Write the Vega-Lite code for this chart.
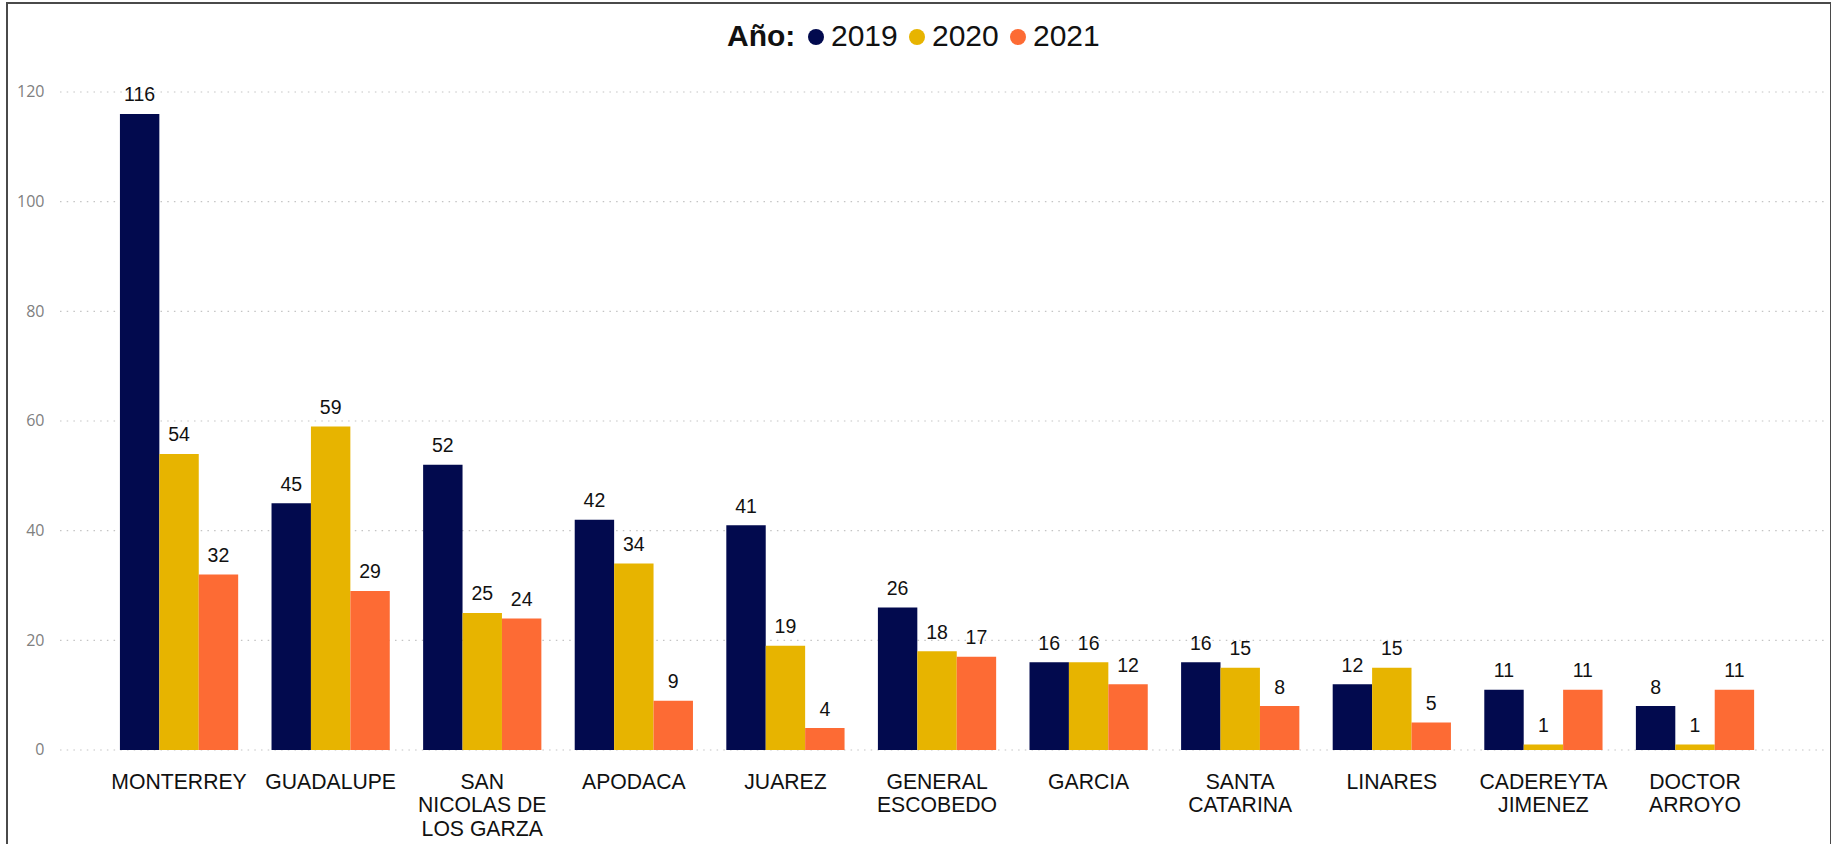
{
  "$schema": "https://vega.github.io/schema/vega-lite/v6.json",
  "width": 1824,
  "height": 843,
  "autosize": {"type": "none"},
  "padding": {"left": 7, "top": 3, "right": 0, "bottom": 0},
  "background": "white",
  "config": {
    "view": {"stroke": "#4a4a4a", "strokeWidth": 2},
    "font": "Liberation Sans"
  },
  "datasets": {
    "bars": [
      {"municipio": "MONTERREY", "anio": "2019", "casos": 116},
      {"municipio": "MONTERREY", "anio": "2020", "casos": 54},
      {"municipio": "MONTERREY", "anio": "2021", "casos": 32},
      {"municipio": "GUADALUPE", "anio": "2019", "casos": 45},
      {"municipio": "GUADALUPE", "anio": "2020", "casos": 59},
      {"municipio": "GUADALUPE", "anio": "2021", "casos": 29},
      {"municipio": "SAN NICOLAS DE LOS GARZA", "anio": "2019", "casos": 52},
      {"municipio": "SAN NICOLAS DE LOS GARZA", "anio": "2020", "casos": 25},
      {"municipio": "SAN NICOLAS DE LOS GARZA", "anio": "2021", "casos": 24},
      {"municipio": "APODACA", "anio": "2019", "casos": 42},
      {"municipio": "APODACA", "anio": "2020", "casos": 34},
      {"municipio": "APODACA", "anio": "2021", "casos": 9},
      {"municipio": "JUAREZ", "anio": "2019", "casos": 41},
      {"municipio": "JUAREZ", "anio": "2020", "casos": 19},
      {"municipio": "JUAREZ", "anio": "2021", "casos": 4},
      {"municipio": "GENERAL ESCOBEDO", "anio": "2019", "casos": 26},
      {"municipio": "GENERAL ESCOBEDO", "anio": "2020", "casos": 18},
      {"municipio": "GENERAL ESCOBEDO", "anio": "2021", "casos": 17},
      {"municipio": "GARCIA", "anio": "2019", "casos": 16},
      {"municipio": "GARCIA", "anio": "2020", "casos": 16},
      {"municipio": "GARCIA", "anio": "2021", "casos": 12},
      {"municipio": "SANTA CATARINA", "anio": "2019", "casos": 16},
      {"municipio": "SANTA CATARINA", "anio": "2020", "casos": 15},
      {"municipio": "SANTA CATARINA", "anio": "2021", "casos": 8},
      {"municipio": "LINARES", "anio": "2019", "casos": 12},
      {"municipio": "LINARES", "anio": "2020", "casos": 15},
      {"municipio": "LINARES", "anio": "2021", "casos": 5},
      {"municipio": "CADEREYTA JIMENEZ", "anio": "2019", "casos": 11},
      {"municipio": "CADEREYTA JIMENEZ", "anio": "2020", "casos": 1},
      {"municipio": "CADEREYTA JIMENEZ", "anio": "2021", "casos": 11},
      {"municipio": "DOCTOR ARROYO", "anio": "2019", "casos": 8},
      {"municipio": "DOCTOR ARROYO", "anio": "2020", "casos": 1},
      {"municipio": "DOCTOR ARROYO", "anio": "2021", "casos": 11}
    ],
    "grid": [{"v": 0}, {"v": 20}, {"v": 40}, {"v": 60}, {"v": 80}, {"v": 100}, {"v": 120}]
  },
  "layer": [
    {
      "data": {"name": "grid"},
      "mark": {"type": "rule", "color": "#c4c4c4", "strokeWidth": 1.2, "strokeDash": [1.5, 5.2]},
      "encoding": {
        "y": {
          "field": "v", "type": "quantitative",
          "scale": {"domain": [-17.51, 136.23], "nice": false, "zero": false},
          "axis": {
            "title": null, "values": [0, 20, 40, 60, 80, 100, 120],
            "grid": false, "domain": false, "ticks": false,
            "offset": -53, "labelPadding": 16,
            "labelFont": "Open Sans", "labelFontSize": 16, "labelColor": "#808080"
          }
        },
        "x": {"datum": 0, "type": "quantitative", "scale": {"domain": [-0.02998, 1.00169], "nice": false, "zero": false}, "axis": null},
        "x2": {"datum": 1}
      }
    },
    {
      "data": {"name": "bars"},
      "layer": [
        {
          "mark": {"type": "bar"},
          "encoding": {
            "x": {
              "field": "municipio", "type": "nominal", "sort": null,
              "scale": {"paddingInner": 0.22, "paddingOuter": 0.626, "align": 0.595},
              "axis": {
                "title": null, "orient": "bottom", "offset": -96,
                "domain": false, "ticks": false, "grid": false,
                "labelAngle": 0, "labelPadding": 21, "labelOverlap": false,
                "labelFont": "Liberation Sans", "labelFontSize": 21.2, "labelColor": "#111111",
                "labelLineHeight": 23.5, "labelLimit": 0,
                "labelExpr": "datum.value == 'SAN NICOLAS DE LOS GARZA' ? ['SAN','NICOLAS DE','LOS GARZA'] : datum.value == 'GENERAL ESCOBEDO' ? ['GENERAL','ESCOBEDO'] : datum.value == 'SANTA CATARINA' ? ['SANTA','CATARINA'] : datum.value == 'CADEREYTA JIMENEZ' ? ['CADEREYTA','JIMENEZ'] : datum.value == 'DOCTOR ARROYO' ? ['DOCTOR','ARROYO'] : datum.label"
              }
            },
            "xOffset": {"field": "anio", "type": "nominal", "scale": {"paddingInner": 0, "paddingOuter": 0}},
            "y": {"field": "casos", "type": "quantitative", "title": null},
            "y2": {"datum": 0},
            "color": {
              "field": "anio", "type": "nominal",
              "scale": {"domain": ["2019", "2020", "2021"], "range": ["#020a4e", "#e7b400", "#fd6b34"]},
              "legend": {
                "title": "Año:", "orient": "none", "legendX": 720, "legendY": 19,
                "direction": "horizontal", "titleOrient": "left", "padding": 0,
                "titleFont": "Liberation Sans", "titleFontSize": 30, "titleFontWeight": "bold", "titleColor": "#111111",
                "titlePadding": 5,
                "labelFont": "Liberation Sans", "labelFontSize": 30, "labelColor": "#111111",
                "labelOffset": 0, "columnPadding": 4,
                "symbolType": "circle", "symbolSize": 256, "symbolStrokeWidth": 0, "symbolOpacity": 1
              }
            }
          }
        },
        {
          "mark": {"type": "text", "baseline": "alphabetic", "dy": -12.5, "fontSize": 19.5, "font": "Liberation Sans", "color": "#111111"},
          "encoding": {
            "x": {"field": "municipio", "type": "nominal", "sort": null},
            "xOffset": {"field": "anio", "type": "nominal"},
            "y": {"field": "casos", "type": "quantitative"},
            "text": {"field": "casos", "type": "quantitative"}
          }
        }
      ]
    }
  ],
  "resolve": {"scale": {"x": "independent"}, "axis": {"x": "independent"}}
}
